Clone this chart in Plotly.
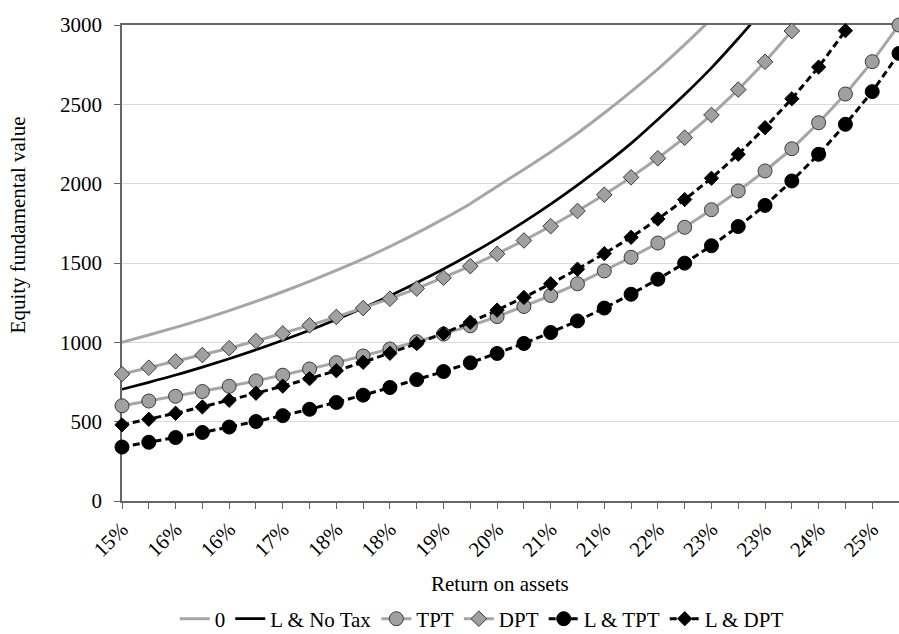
import plotly.graph_objects as go

# ---- data ----
tick_labels = ["15%", "16%", "16%", "17%", "18%", "18%", "19%", "20%",
               "21%", "21%", "22%", "23%", "23%", "24%", "25%"]
n_points = 30

zero_vals = [1000, 1046, 1094, 1145, 1200, 1258, 1319, 1384, 1453, 1526,
             1604, 1688, 1778, 1874, 1982, 2090, 2200, 2318, 2445, 2580,
             2722, 2876, 3040, 3221]
l_notax_vals = [704, 748, 794, 844, 897, 953, 1013, 1076, 1144, 1216,
                1293, 1375, 1462, 1555, 1654, 1759, 1871, 1991, 2118, 2254,
                2405, 2562, 2730, 2915, 3110]
tpt_vals = [600, 630, 660, 690, 723, 757, 793, 832, 872, 914,
            958, 1004, 1052, 1104, 1162, 1226, 1295, 1369, 1450, 1536,
            1626, 1725, 1836, 1954, 2080, 2220, 2384, 2565, 2769, 3000]
dpt_vals = [800, 840, 880, 920, 963, 1008, 1056, 1107, 1160, 1216,
            1275, 1339, 1407, 1480, 1558, 1642, 1732, 1828, 1930, 2040,
            2160, 2290, 2433, 2593, 2768, 2962]
l_tpt_vals = [340, 370, 400, 432, 466, 501, 538, 578, 621, 667,
              715, 765, 816, 871, 930, 993, 1062, 1135, 1216, 1303,
              1398, 1499, 1609, 1730, 1863, 2017, 2185, 2374, 2580, 2821]
l_dpt_vals = [480, 515, 553, 593, 635, 679, 724, 771, 821, 874,
              931, 992, 1057, 1127, 1203, 1283, 1369, 1461, 1559, 1662,
              1777, 1900, 2034, 2185, 2353, 2535, 2735, 2964]

# ---- styles ----
GRAY_LINE = "#a6a6a6"
GRAY_FILL = "#a0a0a0"
OUTLINE = "#3a3a3a"
FONT = "Liberation Serif, DejaVu Serif, serif"
FS = 21

fig = go.Figure()

def idx(vals):
    return list(range(len(vals)))

fig.add_trace(go.Scatter(x=idx(zero_vals), y=zero_vals, name="0", mode="lines",
                         line=dict(color=GRAY_LINE, width=3, shape="spline")))
fig.add_trace(go.Scatter(x=idx(l_notax_vals), y=l_notax_vals, name="L & No Tax", mode="lines",
                         line=dict(color="#000000", width=2.7, shape="spline")))
fig.add_trace(go.Scatter(x=idx(tpt_vals), y=tpt_vals, name="TPT", mode="lines+markers",
                         cliponaxis=False,
                         line=dict(color=GRAY_LINE, width=3),
                         marker=dict(symbol="circle", size=14, color=GRAY_FILL,
                                     line=dict(color=OUTLINE, width=1))))
fig.add_trace(go.Scatter(x=idx(dpt_vals), y=dpt_vals, name="DPT", mode="lines+markers",
                         cliponaxis=False,
                         line=dict(color=GRAY_LINE, width=3),
                         marker=dict(symbol="diamond", size=12, color=GRAY_FILL,
                                     line=dict(color=OUTLINE, width=1))))
fig.add_trace(go.Scatter(x=idx(l_tpt_vals), y=l_tpt_vals, name="L & TPT", mode="lines+markers",
                         cliponaxis=False,
                         line=dict(color="#000000", width=3, dash="7px,4px"),
                         marker=dict(symbol="circle", size=14, color="#000000",
                                     line=dict(color="#000000", width=1))))
fig.add_trace(go.Scatter(x=idx(l_dpt_vals), y=l_dpt_vals, name="L & DPT", mode="lines+markers",
                         cliponaxis=False,
                         line=dict(color="#000000", width=3, dash="7px,4px"),
                         marker=dict(symbol="diamond", size=11, color="#000000",
                                     line=dict(color="#000000", width=1))))

tickvals = list(range(n_points))
ticktext = [tick_labels[i // 2] if i % 2 == 0 and i // 2 < len(tick_labels) else ""
            for i in tickvals]

fig.update_layout(
    width=899, height=634,
    margin=dict(l=122, r=0, t=25, b=133, autoexpand=False),
    paper_bgcolor="white", plot_bgcolor="white",
    font=dict(family=FONT, size=FS, color="#000000"),
    showlegend=True,
    legend=dict(orientation="h", x=0.463, xanchor="center", y=-0.248, yanchor="middle",
                font=dict(family=FONT, size=FS, color="#000000"),
                itemwidth=30, tracegroupgap=0, bgcolor="rgba(0,0,0,0)"),
    xaxis=dict(range=[0, 29], tickvals=tickvals, ticktext=ticktext, tickangle=-45,
               automargin=False,
               showgrid=False, zeroline=False, showline=True, linecolor="#666666",
               linewidth=1.5, mirror=True, ticks="outside", ticklen=6, tickcolor="#666666",
               tickfont=dict(family=FONT, size=FS, color="#000000"), layer="below traces"),
    yaxis=dict(range=[0, 3000], dtick=500, showgrid=True, gridcolor="#d9d9d9", gridwidth=1,
               automargin=False,
               zeroline=False, showline=True, linecolor="#666666", linewidth=1.5,
               ticks="outside", ticklen=6, tickcolor="#666666",
               tickfont=dict(family=FONT, size=FS, color="#000000"),
               ticklabelstandoff=8, layer="below traces"),
    annotations=[
        dict(text="Equity fundamental value", xref="paper", yref="paper",
             x=-0.1345, y=0.58, textangle=-90, showarrow=False,
             font=dict(family=FONT, size=FS, color="#000000"),
             xanchor="center", yanchor="middle"),
        dict(text="Return on assets", xref="paper", yref="paper",
             x=0.4865, y=-0.174, showarrow=False,
             font=dict(family=FONT, size=FS, color="#000000"),
             xanchor="center", yanchor="middle"),
    ],
)

fig.write_html(
    "out.html",
    config={"displayModeBar": False},
    post_script="document.body.style.margin='0';document.body.style.overflow='hidden';",
)
